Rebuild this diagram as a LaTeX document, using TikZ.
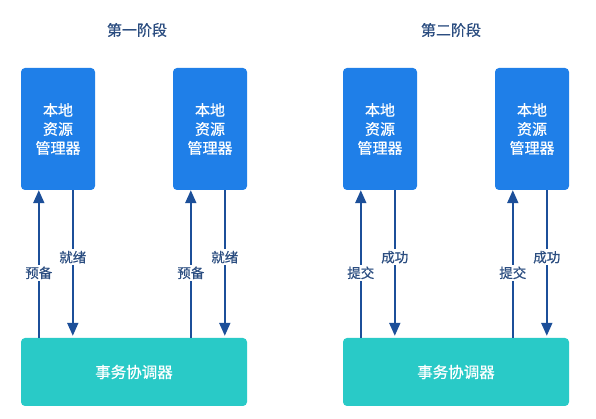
\documentclass[tikz,border=0pt]{standalone}
\usepackage{fontspec}
\setmainfont{Noto Sans CJK SC}[FakeBold=0.6]
\usetikzlibrary{arrows.meta, calc, positioning}

\definecolor{rmblue}{HTML}{1F7FE8}
\definecolor{tcteal}{HTML}{29CAC7}
\definecolor{arrblue}{HTML}{1C4F99}
\definecolor{txtblue}{HTML}{2B4D80}

\begin{document}
\begin{tikzpicture}[
  x=1pt, y=1pt,
  rm/.style={rectangle, rounded corners=4pt, fill=rmblue, text=white,
    minimum width=74pt, minimum height=122pt, align=center,
    font=\fontsize{15}{19}\selectfont},
  tc/.style={rectangle, rounded corners=4pt, fill=tcteal, text=white,
    minimum width=226pt, minimum height=68pt,
    font=\fontsize{15.5}{19}\selectfont},
  phase/.style={text=txtblue, font=\fontsize{15}{18}\selectfont},
  arr/.style={draw=arrblue, line width=1.9pt,
    -{Triangle[width=11pt,length=13pt]}},
  lbl/.style={fill=white, text=txtblue, inner sep=1.5pt,
    font=\fontsize{13.5}{15}\selectfont}]

  \useasboundingbox (0,0) rectangle (596,419);

  % titles
  \node[phase] (p1) at (137,389) {第一阶段};
  \node[phase] (p2) at (451,389) {第二阶段};

  % coordinators
  \node[tc] (tc1) at (134,47) {事务协调器};
  \node[tc] (tc2) at (456,47) {事务协调器};

  % resource managers with their messages
  \foreach \i/\x/\c/\up/\down in {1/58/tc1/预备/就绪, 2/210/tc1/预备/就绪,
                                  3/380/tc2/提交/成功, 4/532/tc2/提交/成功}{
    \node[rm] (rm\i) at (\x,290) {本地\\资源\\管理器};
    \coordinate (u\i) at ($(rm\i.south west)+(18,0)$);
    \coordinate (d\i) at ($(rm\i.south west)+(52,0)$);
    \draw[arr] (\c.north -| u\i) -- node[lbl, pos=.44] (up\i) {\up} (u\i);
    \draw[arr] (d\i) -- node[lbl, pos=.46] (dn\i) {\down} ([yshift=2pt]\c.north -| d\i);
  }
\end{tikzpicture}
\end{document}
